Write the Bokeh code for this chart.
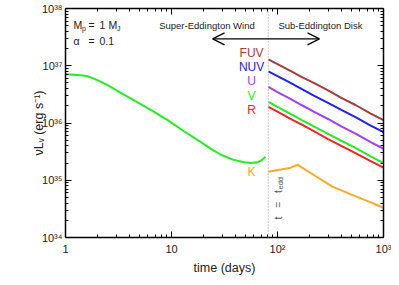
import numpy as np
from bokeh.plotting import figure
from bokeh.models import (FixedTicker, LogAxis, CustomJSTickFormatter, Label,
                          Arrow, OpenHead, Span)
from bokeh.embed import file_html
from bokeh.resources import INLINE

# ---------------- data ----------------
# early (super-Eddington wind) phase, single green curve
t_early = [1, 1.3, 1.6, 2.0, 2.5, 3.3, 4.4, 6.5, 9.2, 13, 18.8, 24, 29, 38, 47, 56, 66, 72, 77]
logL_early = [36.85, 36.84, 36.82, 36.75, 36.66, 36.53, 36.40, 36.22, 36.05, 35.86,
              35.67, 35.54, 35.45, 35.36, 35.32, 35.30, 35.32, 35.36, 35.41]

t_edd = 82

# late (sub-Eddington disk) phase
t_late = [82, 100, 130, 170, 220, 300, 400, 550, 750, 1000]
logL_FUV = [37.11, 37.03, 36.92, 36.80, 36.70, 36.57, 36.44, 36.31, 36.17, 36.05]
logL_NUV = [36.90, 36.82, 36.71, 36.59, 36.48, 36.35, 36.23, 36.10, 35.96, 35.84]
logL_U = [36.63, 36.54, 36.43, 36.31, 36.20, 36.07, 35.94, 35.81, 35.67, 35.55]
logL_V = [36.37, 36.28, 36.17, 36.05, 35.94, 35.81, 35.69, 35.56, 35.42, 35.30]
logL_R = [36.28, 36.20, 36.08, 35.97, 35.86, 35.72, 35.60, 35.47, 35.34, 35.22]
t_K = [82, 133, 155, 230, 330, 500, 700, 1000]
logL_K = [35.15, 35.22, 35.27, 35.07, 34.89, 34.75, 34.64, 34.52]

band_names = ["FUV", "NUV", "U", "V", "R", "K"]
band_colors = ["#a83a3a", "#2020ff", "#a040ff", "#22ee22", "#ff2020", "#ffaa22"]
band_label_logL = [37.22, 36.97, 36.73, 36.47, 36.23, 35.15]

x_ticks = [1, 10, 100, 1000]
x_tick_labels = ["1", "10", "10²", "10³"]
y_ticks = [1e34, 1e35, 1e36, 1e37, 1e38]
y_tick_labels = ["10³⁴", "10³⁵", "10³⁶", "10³⁷", "10³⁸"]

FONT = "Liberation Sans"
TXT = "#222222"
NB = "\u00a0"

# ---------------- figure ----------------
p = figure(width=391, height=277, x_axis_type="log", y_axis_type="log",
           x_range=(1, 1000), y_range=(1e34, 1e38),
           output_backend="svg", toolbar_location=None,
           min_border_left=65, min_border_right=8, min_border_top=8, min_border_bottom=39)
p.grid.visible = False
p.outline_line_color = None
p.background_fill_color = "white"
p.border_fill_color = "white"

x_minor = [m * d for d in (1, 10, 100) for m in range(2, 10)]
y_minor = [m * d for d in (1e34, 1e35, 1e36, 1e37) for m in range(2, 10)]

fmt_code = """
const i = tvals.findIndex(t => Math.abs(Math.log10(t) - Math.log10(tick)) < 1e-6);
return i >= 0 ? tlabels[i] : "";
"""

def style_axis(ax, show_labels):
    ax.axis_line_color = "black"
    ax.axis_line_width = 1.5
    ax.major_tick_line_color = "black"
    ax.minor_tick_line_color = "black"
    ax.major_tick_in = 6
    ax.major_tick_out = 0
    ax.minor_tick_in = 3
    ax.minor_tick_out = 0
    ax.major_label_text_font = FONT
    ax.major_label_text_color = TXT
    if show_labels:
        ax.major_label_text_font_size = "11px"
    else:
        ax.major_label_text_font_size = "0px"
        ax.major_label_standoff = 0

xb = p.xaxis[0]
xb.ticker = FixedTicker(ticks=x_ticks, minor_ticks=x_minor)
xb.formatter = CustomJSTickFormatter(args=dict(tvals=x_ticks, tlabels=x_tick_labels), code=fmt_code)
style_axis(xb, True)
xb.major_label_standoff = 5
xb.axis_label = "time (days)"
xb.axis_label_text_font = FONT
xb.axis_label_text_font_size = "12.5px"
xb.axis_label_text_font_style = "normal"
xb.axis_label_text_color = TXT
xb.axis_label_standoff = 3

yl = p.yaxis[0]
yl.ticker = FixedTicker(ticks=y_ticks, minor_ticks=y_minor)
yl.formatter = CustomJSTickFormatter(args=dict(tvals=y_ticks, tlabels=y_tick_labels), code=fmt_code)
style_axis(yl, True)
yl.major_label_standoff = 3
yl.axis_label = "νLᵥ (erg s⁻¹)"
yl.axis_label_text_font = FONT
yl.axis_label_text_font_size = "12.5px"
yl.axis_label_text_font_style = "normal"
yl.axis_label_text_color = TXT
yl.axis_label_standoff = -7

blank = CustomJSTickFormatter(code='return "";')
top = LogAxis(ticker=FixedTicker(ticks=x_ticks, minor_ticks=x_minor), formatter=blank)
style_axis(top, False)
p.add_layout(top, "above")
right = LogAxis(ticker=FixedTicker(ticks=y_ticks, minor_ticks=y_minor), formatter=blank)
style_axis(right, False)
p.add_layout(right, "right")

# ---------------- curves ----------------
p.line(t_early, 10 ** np.array(logL_early), color=band_colors[3], line_width=2)
for name, col, ll in zip(band_names[:5], band_colors[:5],
                         [logL_FUV, logL_NUV, logL_U, logL_V, logL_R]):
    p.line(t_late, 10 ** np.array(ll), color=col, line_width=2)
p.line(t_K, 10 ** np.array(logL_K), color=band_colors[5], line_width=2)

p.add_layout(Span(location=t_edd, dimension="height", line_color="#aaaaaa",
                  line_dash="1 2", line_width=1.2))

# ---------------- annotations ----------------
def lab(text, x, y, size, color=TXT, align="left", dx=0, dy=0, angle=0):
    p.add_layout(Label(x=x, y=y, text=text,
                       x_offset=dx, y_offset=dy, angle=angle,
                       text_font=FONT, text_font_size=size, text_color=color,
                       text_align=align, text_baseline="middle"))

# band labels
for name, col, ly in zip(band_names, band_colors, band_label_logL):
    lab(name, 57, 10 ** ly, "12px", color=col, align="center")

# parameters
mx, my1, my2 = 1.19, 5.06e37, 2.72e37
lab("M", mx, my1, "10.5px")
lab("p", mx, my1, "7px", dx=8.5, dy=-3)
lab("=", mx, my1, "10.5px", dx=15)
lab("1", mx, my1, "10.5px", dx=26)
lab("M", mx, my1, "10.5px", dx=35)
lab("J", mx, my1, "7px", dx=43.5, dy=-3)
lab("α", mx, my2, "10.5px")
lab("=", mx, my2, "10.5px", dx=15)
lab("0.1", mx, my2, "10.5px", dx=26)

# regime labels and arrow
lab("Super-Eddington Wind", 21.6, 5.06e37, "9.5px", align="center")
lab("Sub-Eddington Disk", 254, 5.06e37, "9.5px", align="center")
p.add_layout(Arrow(start=OpenHead(size=12, line_width=1.2, line_color="black"),
                   end=OpenHead(size=12, line_width=1.2, line_color="black"),
                   x_start=24.4, y_start=2.95e37, x_end=249, y_end=2.95e37,
                   line_width=1.2, line_color="black"))

# t = t_edd (rotated)
ex, ey = 100, 2.06e34
rot = np.pi / 2
lab("t" + NB * 3 + "=" + NB * 3 + "t", ex, ey, "10.5px", color="#555555", angle=rot)
lab("edd", ex, ey, "7.5px", color="#555555", angle=rot, dy=30, dx=3)

open("out.html", "w").write(file_html(p, INLINE))
